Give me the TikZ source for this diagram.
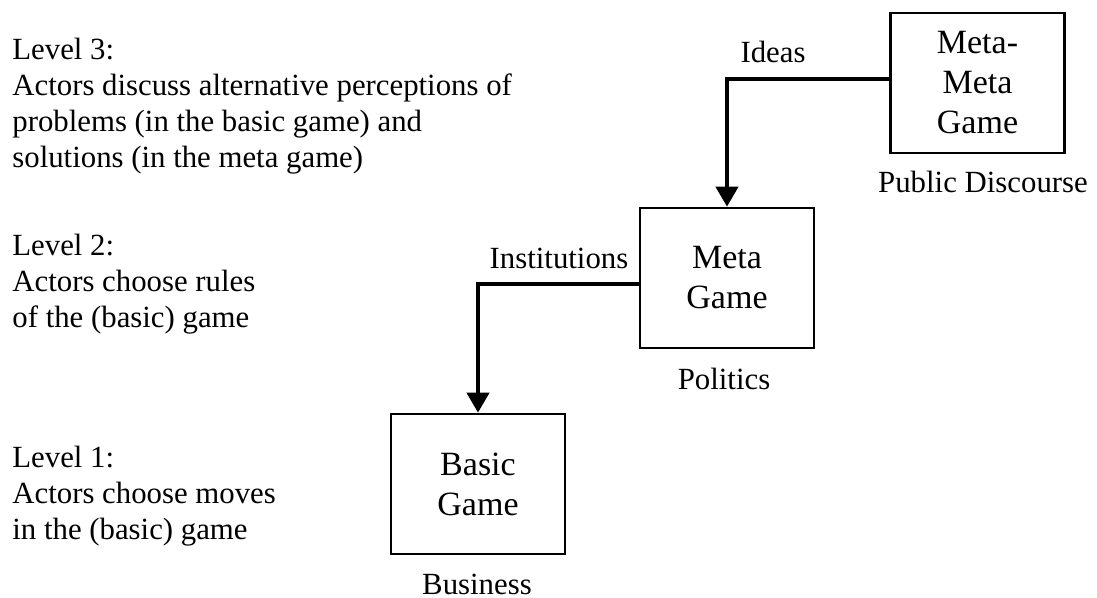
\documentclass[tikz,border=0pt]{standalone}
\usepackage{fontspec}
\setmainfont{Liberation Serif}
\usetikzlibrary{arrows.meta,positioning}

\begin{document}
\begin{tikzpicture}[x=0.5pt,y=-0.5pt,
    game/.style={draw,line width=1.3pt,minimum width=87pt,minimum height=70pt,
      inner sep=0pt,align=center,font=\fontsize{17}{20}\selectfont},
    lbl/.style={inner sep=0pt,font=\fontsize{15.4}{18}\selectfont},
    lvl/.style={lbl,align=left,anchor=base west},
    feed/.style={line width=2pt,-{Triangle[width=11pt,length=10pt]}}]
  \useasboundingbox (0,0) rectangle (1097,598);
  % games
  \node[game] (mmg) at (977.5,83) {Meta-\\Meta\\Game};
  \node[game] (mg) at (727,278) {Meta\\Game};
  \node[game] (bg) at (478,484) {Basic\\Game};
  % arenas
  \node[lbl,anchor=base] (pd) at (983,193) {Public Discourse};
  \node[lbl,anchor=base] (pol) at (724,390) {Politics};
  \node[lbl,anchor=base] (bus) at (477,594) {Business};
  % feedback
  \draw[feed] ([yshift=2pt]mmg.west) -| (mg.north);
  \node[lbl,anchor=base] (ideas) at (773,63) {Ideas};
  \draw[feed] ([yshift=-3pt]mg.west) -| (bg.north);
  \node[lbl,anchor=base] (inst) at (559,269) {Institutions};
  % levels (base = last line)
  \node[lvl] (lv3) at (12,168) {Level 3:\\Actors discuss alternative perceptions of\\
    problems (in the basic game) and\\solutions (in the meta game)};
  \node[lvl] (lv2) at (12,328) {Level 2:\\Actors choose rules\\of the (basic) game};
  \node[lvl] (lv1) at (12,539) {Level 1:\\Actors choose moves\\in the (basic) game};
\end{tikzpicture}
\end{document}
